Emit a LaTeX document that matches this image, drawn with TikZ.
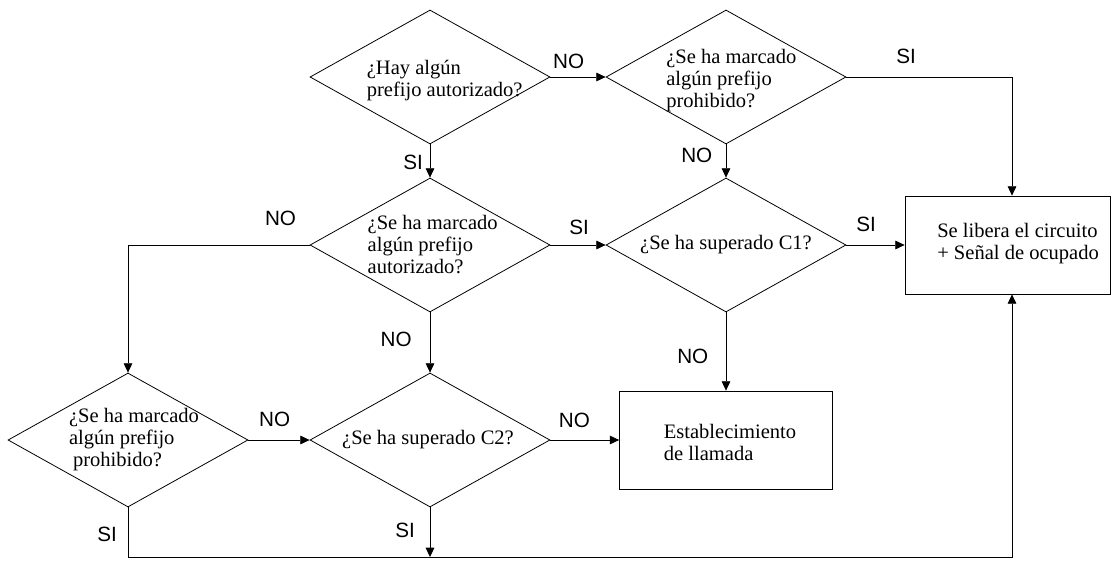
\documentclass[tikz,border=0pt]{standalone}
\usepackage{fontspec}
\setmainfont{Liberation Serif}
\setsansfont{Liberation Sans}
\usetikzlibrary{shapes.geometric,arrows.meta}

\tikzset{
    decision/.style={draw, diamond, inner sep=0pt, minimum width=180pt, minimum height=100.5pt},
    block/.style={draw, rectangle, inner sep=0pt, minimum height=73.5pt},
    question/.style={align=left, inner sep=0pt, font=\fontsize{15.4}{16.5}\selectfont},
    answer/.style={inner sep=0pt, font=\sffamily\fontsize{15.5}{18}\selectfont},
}

\begin{document}
\begin{tikzpicture}[x=0.75pt, y=-0.75pt, line width=0.6pt]

    \useasboundingbox (0,0) rectangle (1112,560);

    \node[decision, label={[question, xshift=11pt, yshift=-3pt]center:{¿Hay algún\\prefijo autorizado?}}] (hay) at (430,77) {};
    \node[decision, label={[question, xshift=4pt, yshift=-3pt]center:{¿Se ha marcado\\algún prefijo\\prohibido?}}] (proh1) at (726,77) {};
    \node[decision, label={[question, xshift=2pt]center:{¿Se ha marcado\\algún prefijo\\autorizado?}}] (marc) at (430,245) {};
    \node[decision, label={[question]center:{¿Se ha superado C1?}}] (sup1) at (726,245) {};
    \node[decision, label={[question, xshift=4.5pt]center:{¿Se ha marcado\\algún prefijo\\\hspace*{3pt}prohibido?}}] (pmarc) at (128,440) {};
    \node[decision, label={[question, xshift=-1.5pt]center:{¿Se ha superado C2?}}] (sup2) at (430,440) {};

    \node[block, minimum width=159.75pt, label={[question, xshift=3pt, yshift=-1.5pt]center:{Establecimiento\\de llamada}}] (estab) at (726,440) {};
    \node[block, minimum width=153.75pt, label={[question, xshift=7.9pt, yshift=1pt]center:{Se libera el circuito\\+ Señal de ocupado}}] (libera) at (1007.5,245) {};

    \coordinate (turn) at (1012,77);
    \coordinate (esqA) at (128,557);
    \coordinate (esqB) at (1012,557);

    \begin{scope}[>={Triangle[length=7pt, width=6.5pt]}]
        \draw [->] (hay.east) -- node[answer, pos=0.33, above=6pt] {NO} (proh1.west);
        \draw [->] (hay.south) -- node[answer, pos=0.55, left=5pt] {SI} (marc.north);
        \draw [->] (proh1.south) -- node[answer, pos=0.34, left=10pt] {NO} (sup1.north);
        \draw [->] (proh1.east) -- node[answer, pos=0.36, above=10pt] {SI} (turn) -- (turn |- libera.north);

        \draw [->] (marc.west) -| node[answer, pos=0.08, above=14pt] {NO} (pmarc.north);
        \draw [->] (marc.east) -- node[answer, pos=0.52, above=7.5pt] {SI} (sup1.west);
        \draw [->] (marc.south) -- node[answer, pos=0.45, left=13.5pt] {NO} (sup2.north);

        \draw [->] (sup1.east) -- node[answer, pos=0.34, above=10pt] {SI} (libera.west);
        \draw [->] (sup1.south) -- node[answer, pos=0.56, left=13pt] {NO} (estab.north);

        \draw [->] (pmarc.east) -- node[answer, pos=0.43, above=10pt] {NO} (sup2.west);
        \draw [->] (sup2.east) -- node[answer, pos=0.35, above=9pt] {NO} (estab.west);
        \draw [->] (sup2.south) -- node[answer, pos=0.46, left=11pt] {SI} (sup2.south |- esqA);
        \draw [->] (pmarc.south) -- node[answer, pos=0.54, left=8pt] {SI} (esqA) -- (esqB) -- (esqB |- libera.south);
    \end{scope}

\end{tikzpicture}
\end{document}
